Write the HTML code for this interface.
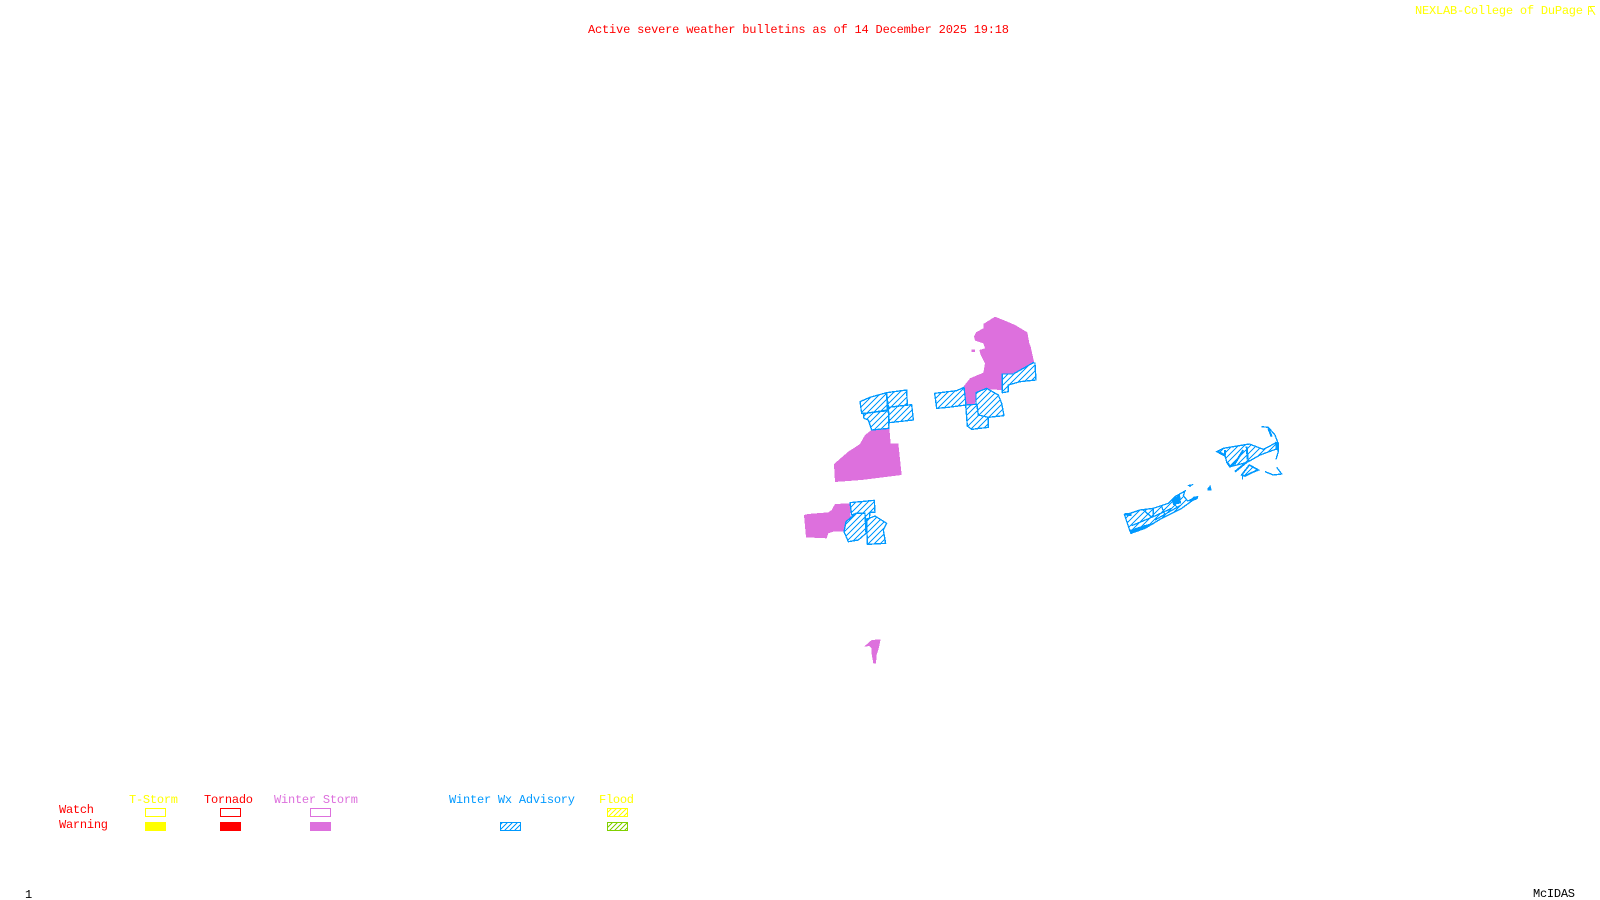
<!DOCTYPE html>
<html><head><meta charset="utf-8"><title>Active severe weather bulletins</title>
<style>
html,body{margin:0;padding:0;background:#fff}
svg{display:block}
text{font-family:"Liberation Mono","DejaVu Sans Mono",monospace;font-size:12px}
</style></head><body>
<svg width="1600" height="900" viewBox="0 0 1600 900" xmlns="http://www.w3.org/2000/svg" shape-rendering="crispEdges">
<defs>
<pattern id="h3" width="18" height="18" patternUnits="userSpaceOnUse"><rect width="18" height="18" fill="#fff"/><path d="M-3 21L21 -3M-3 3L3 -3M15 21L21 15" stroke="#0099ff" stroke-width="3" fill="none"/></pattern>
<pattern id="hb" width="5" height="5" patternUnits="userSpaceOnUse"><rect width="5" height="5" fill="#fff"/><path d="M-1 6L6 -1M-1 1L1 -1M4 6L6 4" stroke="#0099ff" stroke-width="1" fill="none"/></pattern>
<pattern id="hy" width="5" height="5" patternUnits="userSpaceOnUse"><rect width="5" height="5" fill="#fff"/><path d="M-1 6L6 -1M-1 1L1 -1M4 6L6 4" stroke="#ffff00" stroke-width="1" fill="none"/></pattern>
<pattern id="hg" width="5" height="5" patternUnits="userSpaceOnUse"><rect width="5" height="5" fill="#fff"/><path d="M-1 6L6 -1M-1 1L1 -1M4 6L6 4" stroke="#80d000" stroke-width="1" fill="none"/></pattern>
</defs>
<rect width="1600" height="900" fill="#fff"/>

<text x="588" y="33" fill="#ff0000" textLength="421">Active severe weather bulletins as of 14 December 2025 19:18</text>
<text x="1415" y="14" fill="#ffff00" textLength="168">NEXLAB-College of DuPage</text>
<path d="M1588.500 6.500H1595M1588.500 6.500V15M1588.500 11H1592M1590 6.500L1595 15" stroke="#ffff00" fill="none"/>

<!-- north clusters -->
<g transform="translate(770 300) scale(.33333)">
<polygon fill="#dd70dd" points="675,50 700,60 735,75 772,97 778,130 782,140 792,185 760,215 695,225 695,270 655,268 618,280 615,315 588,313 582,258 600,235 640,218 645,190 632,165 628,150 645,145 640,130 615,122 612,110 618,97 640,85 640,72"/>
<polygon fill="#dd70dd" points="605,148 615,148 615,156 605,156"/>
<polygon fill="#dd70dd" points="302,392 358,385 362,430 385,430 395,525 275,540 195,546 192,492 235,455 270,432 285,405"/>
<g fill="url(#h3)" stroke="#0099ff" stroke-width="4" stroke-linejoin="round">
<polygon points="697,222 730,222 790,188 795,190 798,240 750,245 715,255 715,275 697,278"/>
<polygon points="494,280 560,272 582,262 588,315 535,322 500,325"/>
<polygon points="618,278 650,265 685,285 695,310 702,347 655,352 625,345 622,318 618,315"/>
<polygon points="587,315 620,313 625,345 655,352 655,382 605,388 592,378"/>
<polygon points="350,278 410,270 412,315 355,322"/>
<polygon points="355,322 425,314 430,360 358,368"/>
<polygon points="270,305 300,292 350,278 352,330 300,338 275,340"/>
<polygon points="280,342 300,338 355,332 357,385 305,390 295,360 282,355"/>
</g>
</g>

<!-- south cluster -->
<g transform="translate(770 480) scale(.33333)">
<polygon fill="#dd70dd" points="102,105 115,102 175,97 185,90 195,72 240,70 245,155 190,155 175,160 170,175 108,172"/>
<g fill="url(#h3)" stroke="#0099ff" stroke-width="4" stroke-linejoin="round">
<polygon points="240,68 313,61 315,97 300,97 298,115 285,118 285,100 258,100 245,105"/>
<polygon points="228,125 258,100 285,100 288,160 265,180 235,185 222,155"/>
<polygon points="290,118 315,108 350,130 340,150 347,190 292,193"/>
</g>
</g>

<!-- small southern polygon -->
<g transform="translate(850 630) scale(.33333)">
<polygon fill="#dd70dd" points="92,28 65,30 42,50 58,48 65,55 65,72 70,100 78,100 80,75 85,60"/>
</g>

<!-- Long Island -->
<g transform="translate(1115 475) scale(.33333)">
<polygon fill="url(#h3)" stroke="#0099ff" stroke-width="4" points="28,118 45,115 75,105 115,100 160,85 180,65 210,48 205,62 218,78 248,65 200,100 140,130 90,160 48,175 42,160"/>
<g fill="#0099ff">
<polygon points="170,75 195,58 198,85 175,90"/>
<polygon points="217,30 236,27 225,37"/>
<polygon points="278,40 286,30 290,46 277,47"/>
<polygon points="235,65 250,63 248,72 220,84"/>
<polygon points="45,165 90,150 110,145 120,145 90,162 48,177"/>
<polygon points="28,115 50,113 50,123 32,122"/>
</g>
<path d="M115 100V125M50 152L115 125L170 100M85 105L112 128M140 95L150 120M175 85L190 100M120 135L195 92" stroke="#0099ff" stroke-width="4" fill="none"/>
</g>

<!-- Cape Cod -->
<g transform="translate(1210 420) scale(.33333)">
<polygon fill="url(#h3)" stroke="#0099ff" stroke-width="4" points="20,95 40,85 100,75 118,72 160,88 195,70 205,85 150,105 115,125 100,130 60,140 50,125 45,108"/>
<polygon fill="url(#h3)" stroke="#0099ff" stroke-width="5" points="95,165 118,135 145,150 125,158 105,168"/>
<g fill="none" stroke="#0099ff" stroke-linejoin="round">
<path d="M155 20L175 22L195 45L205 72L205 95L198 118" stroke-width="4"/>
<path d="M175 25L185 50" stroke-width="6"/>
<path d="M110 80L113 118M75 155L118 120" stroke-width="6"/>
<path d="M50 125L60 140L75 130L100 90" stroke-width="6"/>
<path d="M25 95L45 105L45 90" stroke-width="5"/>
<path d="M165 155L190 165L215 162L200 142" stroke-width="4"/>
<path d="M98 168V178" stroke-width="3"/>
</g>
<polygon fill="#0099ff" points="195,65 207,68 207,92 197,90"/>
</g>

<!-- legend -->
<text x="129" y="803" fill="#ffff00" textLength="49">T-Storm</text>
<text x="204" y="803" fill="#ff0000" textLength="49">Tornado</text>
<text x="274" y="803" fill="#dd70dd" textLength="84">Winter Storm</text>
<text x="449" y="803" fill="#0099ff" textLength="126">Winter Wx Advisory</text>
<text x="599" y="803" fill="#ffff00" textLength="35">Flood</text>
<text x="59" y="813" fill="#ff0000" textLength="35">Watch</text>
<text x="59" y="828" fill="#ff0000" textLength="49">Warning</text>

<rect x="145.500" y="808.500" width="20" height="8" fill="#fff" stroke="#ffff00"/>
<rect x="220.500" y="808.500" width="20" height="8" fill="#fff" stroke="#ff0000"/>
<rect x="310.500" y="808.500" width="20" height="8" fill="#fff" stroke="#dd70dd"/>
<rect x="607.500" y="808.500" width="20" height="8" fill="url(#hy)" stroke="#ffff00"/>
<rect x="145" y="822" width="21" height="9" fill="#ffff00"/>
<rect x="220" y="822" width="21" height="9" fill="#ff0000"/>
<rect x="310" y="822" width="21" height="9" fill="#dd70dd"/>
<rect x="500.500" y="822.500" width="20" height="8" fill="url(#hb)" stroke="#0099ff"/>
<rect x="607.500" y="822.500" width="20" height="8" fill="url(#hg)" stroke="#80d000"/>

<text x="25" y="898" fill="#000">1</text>
<text x="1533" y="897" fill="#000" textLength="42">McIDAS</text>
</svg>
</body></html>
